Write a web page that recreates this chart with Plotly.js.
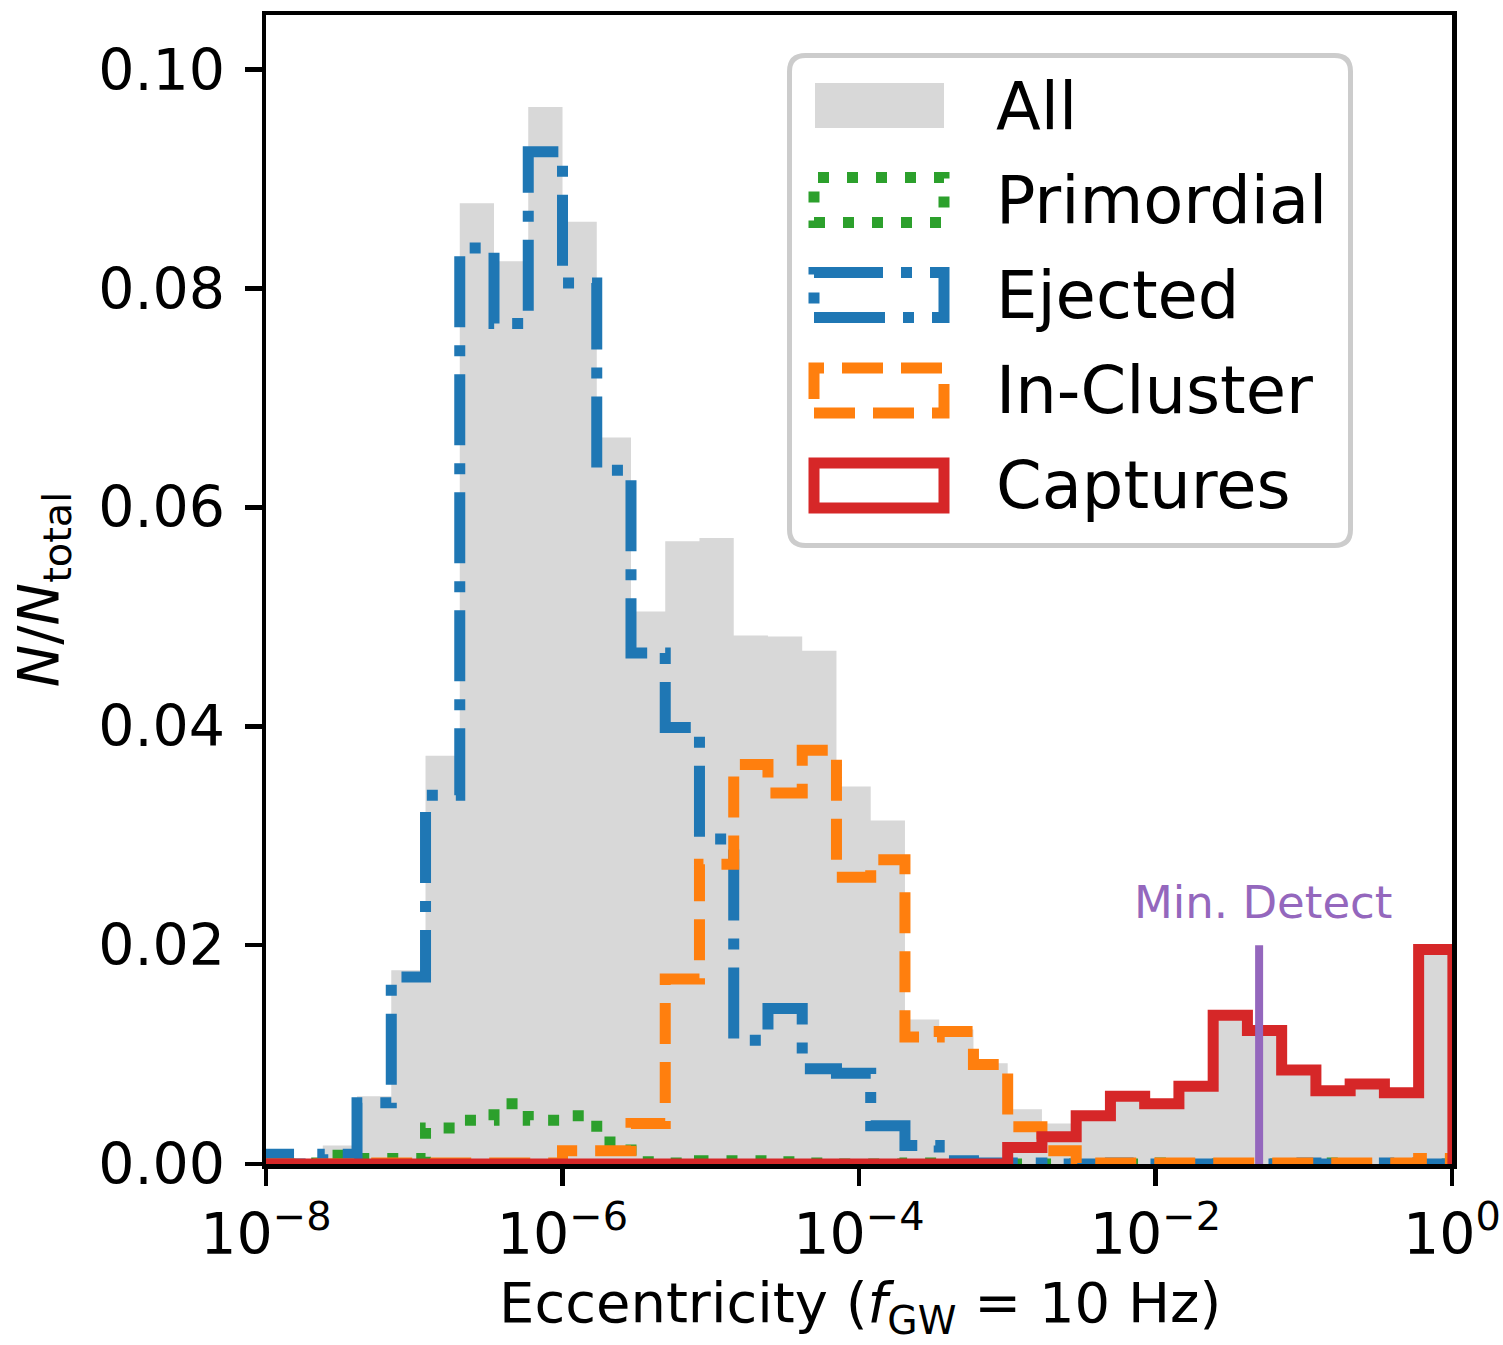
<!DOCTYPE html>
<html>
<head>
<meta charset="utf-8">
<script src="https://cdn.plot.ly/plotly-3.0.1.min.js"></script>
<style>
  html, body { margin: 0; padding: 0; background: #ffffff; }
  #chart { width: 1503px; height: 1345px; }
</style>
</head>
<body>
<div id="chart"></div>
<script>
// ---- Histogram bins (log10 of eccentricity): 35 equal-width bins in log space ----
const binStartLog = -8.079;
const binWidthLog = 0.231;
const nBins = 35;

// ---- Series values: N/N_total per bin ----
const allVals = [0.0010, 0.0002, 0.0017, 0.0062, 0.0177, 0.0373, 0.0878, 0.0825, 0.0966, 0.0861,
                 0.0664, 0.0505, 0.0569, 0.0572, 0.0483, 0.0482, 0.0469, 0.0345, 0.0314, 0.0132,
                 0.0123, 0.0092, 0.0050, 0.0037, 0.0045, 0.0063, 0.0056, 0.0072, 0.0137, 0.0123,
                 0.0087, 0.0068, 0.0074, 0.0066, 0.0201];
const primordialVals = [0.0000, 0.0001, 0.0008, 0.0005, 0.0005, 0.0033, 0.0040, 0.0055, 0.0040, 0.0044,
                        0.0020, 0.0002, 0.0001, 0.0003, 0.0003, 0.0002, 0.0001, 0.0000, 0.0000, 0.0001,
                        0.0000, 0.0000, 0.0000, 0.0000, 0.0000, 0.0000, 0.0001, 0.0000, 0.0000, 0.0000,
                        0.0000, 0.0001, 0.0000, 0.0000, 0.0000];
const ejectedVals = [0.0009, 0.0000, 0.0009, 0.0056, 0.0171, 0.0337, 0.0837, 0.0768, 0.0925, 0.0805,
                     0.0634, 0.0467, 0.0399, 0.0297, 0.0113, 0.0142, 0.0087, 0.0083, 0.0035, 0.0017,
                     0.0003, 0.0001, 0.0001, 0.0000, 0.0000, 0.0001, 0.0000, 0.0000, 0.0000, 0.0000,
                     0.0001, 0.0000, 0.0000, 0.0001, 0.0000];
const inClusterVals = [0.0000, 0.0000, 0.0000, 0.0001, 0.0001, 0.0001, 0.0001, 0.0001, 0.0001, 0.0012,
                       0.0012, 0.0037, 0.0169, 0.0274, 0.0365, 0.0339, 0.0378, 0.0262, 0.0278, 0.0116,
                       0.0121, 0.0091, 0.0034, 0.0012, 0.0001, 0.0001, 0.0001, 0.0001, 0.0001, 0.0001,
                       0.0001, 0.0001, 0.0001, 0.0001, 0.0005];
const capturesVals = [0, 0, 0, 0, 0, 0, 0, 0, 0, 0,
                      0, 0, 0, 0, 0, 0, 0, 0, 0, 0,
                      0, 0, 0.0015, 0.0025, 0.0044, 0.0062, 0.0055, 0.0071, 0.0136, 0.0122,
                      0.0086, 0.0067, 0.0073, 0.0065, 0.0196];

// Minimum detectable eccentricity marker
const minDetectX = 0.05;
const minDetectTop = 0.02;

// Tick labels
const xTickVals = [1e-8, 1e-6, 1e-4, 1e-2, 1];
const xTickText = ['10<sup>\u22128</sup>', '10<sup>\u22126</sup>', '10<sup>\u22124</sup>', '10<sup>\u22122</sup>', '10<sup>0</sup>'];
const yTickVals = [0, 0.02, 0.04, 0.06, 0.08, 0.10];
const yTickText = ['0.00', '0.02', '0.04', '0.06', '0.08', '0.10'];

const legendLabels = ['All', 'Primordial', 'Ejected', 'In-Cluster', 'Captures'];
const xTitle = 'Eccentricity (<i>f</i><sub>GW</sub> = 10 Hz)';
const yTitle = '<i>N</i>/<i>N</i><sub>total</sub>';

// ---- Styles ----
const GRAY = '#d8d8d8';
const GREEN = '#2ca02c', BLUE = '#1f77b4', ORANGE = '#ff7f0e', RED = '#d62728', PURPLE = '#9467bd';
const LW = 11;
const DOT = '11px,18px';
const DASH = '41px,18px';
const DASHDOT = '71px,18px,11px,18px';
const FONT = 'DejaVu Sans';

// bin edges (values)
const edges = [];
for (let i = 0; i <= nBins; i++) edges.push(Math.pow(10, binStartLog + i * binWidthLog));

function stepXY(vals) {
  const xs = [edges[0]], ys = [0];
  for (let i = 0; i < vals.length; i++) { xs.push(edges[i]); ys.push(vals[i]); }
  xs.push(edges[vals.length]); ys.push(vals[vals.length - 1]);
  xs.push(edges[vals.length]); ys.push(0);
  return {x: xs, y: ys};
}
function filledXY(vals) {
  const xs = [], ys = [];
  for (let i = 0; i < vals.length; i++) { xs.push(edges[i]); ys.push(vals[i]); }
  xs.push(edges[vals.length]); ys.push(vals[vals.length - 1]);
  return {x: xs, y: ys};
}

const gAll = filledXY(allVals);
const traces = [
  {type: 'scatter', mode: 'lines', x: gAll.x, y: gAll.y, fill: 'tozeroy', fillcolor: GRAY,
   line: {shape: 'hv', width: 0, color: GRAY}, name: 'All', showlegend: false, hoverinfo: 'skip'},
];
const stepSeries = [
  [primordialVals, GREEN, DOT, 'Primordial'],
  [ejectedVals, BLUE, DASHDOT, 'Ejected'],
  [inClusterVals, ORANGE, DASH, 'In-Cluster'],
  [capturesVals, RED, 'solid', 'Captures'],
];
stepSeries.forEach(([vals, col, dash, nm]) => {
  const s = stepXY(vals);
  traces.push({type: 'scatter', mode: 'lines', x: s.x, y: s.y, name: nm, showlegend: false,
               line: {shape: 'hv', width: LW, color: col, dash: dash}, hoverinfo: 'skip'});
});
traces.push({type: 'scatter', mode: 'lines', x: [minDetectX, minDetectX], y: [0, minDetectTop],
             line: {width: 8, color: PURPLE}, showlegend: false, hoverinfo: 'skip', name: 'Min. Detect'});

// ---- Layout geometry (pixels) ----
const L = 266, R = 1452, T = 15, B = 1164;
const W = R - L, H = B - T;
const fx = x => (x - L) / W;
const fy = y => (B - y) / H;

// legend frame (rounded rectangle in paper coords)
function roundRect(x0, y0, x1, y1, r) {
  const rx = r / W, ry = r / H;
  const X0 = fx(x0), X1 = fx(x1), Y0 = fy(y0), Y1 = fy(y1); // Y0 top (greater)
  return `M ${X0 + rx},${Y0} L ${X1 - rx},${Y0} Q ${X1},${Y0} ${X1},${Y0 - ry} ` +
         `L ${X1},${Y1 + ry} Q ${X1},${Y1} ${X1 - rx},${Y1} L ${X0 + rx},${Y1} ` +
         `Q ${X0},${Y1} ${X0},${Y1 + ry} L ${X0},${Y0 - ry} Q ${X0},${Y0} ${X0 + rx},${Y0} Z`;
}

const shapes = [
  {type: 'path', xref: 'paper', yref: 'paper', path: roundRect(789.5, 55.5, 1350.5, 545.5, 16),
   line: {color: '#cccccc', width: 5}, fillcolor: 'rgba(255,255,255,0.8)', layer: 'above'},
];
const rowY = [105.5, 200, 295, 390.5, 485.5];
const hx0 = 814, hx1 = 944, hh = 22.5;
shapes.push({type: 'rect', xref: 'paper', yref: 'paper', x0: fx(815), x1: fx(944),
             y0: fy(rowY[0] + hh), y1: fy(rowY[0] - hh), fillcolor: GRAY, line: {width: 0}, layer: 'above'});
const handleStyles = [[GREEN, DOT], [BLUE, DASHDOT], [ORANGE, DASH], [RED, 'solid']];
handleStyles.forEach(([col, dash], k) => {
  const yc = rowY[k + 1];
  shapes.push({type: 'rect', xref: 'paper', yref: 'paper', x0: fx(hx0), x1: fx(hx1),
               y0: fy(yc + hh), y1: fy(yc - hh), fillcolor: 'rgba(0,0,0,0)',
               line: {color: col, width: LW, dash: dash}, layer: 'above'});
});

const annotations = legendLabels.map((t, k) => ({
  xref: 'paper', yref: 'paper', x: fx(994), y: fy(rowY[k]), xanchor: 'left', yanchor: 'middle',
  text: t, showarrow: false, font: {family: FONT, size: 65.5, color: '#000000'}
}));
annotations.push({
  xref: 'x', yref: 'y', x: Math.log10(minDetectX), y: minDetectTop, xanchor: 'center', yanchor: 'bottom',
  xshift: 4, yshift: 14, text: 'Min. Detect', showarrow: false,
  font: {family: FONT, size: 45, color: PURPLE}
});
// x-axis title
annotations.push({
  xref: 'paper', yref: 'paper', x: fx(860), y: fy(1306), xanchor: 'center', yanchor: 'middle',
  text: xTitle, showarrow: false, borderpad: 0, font: {family: FONT, size: 56, color: '#000000'}
});

const layout = {
  width: 1503, height: 1345,
  margin: {l: L, r: 1503 - R, t: T, b: 1345 - B, pad: 0},
  paper_bgcolor: '#ffffff', plot_bgcolor: '#ffffff',
  font: {family: FONT, color: '#000000'},
  showlegend: false,
  xaxis: {
    type: 'log', range: [-8, 0], tickvals: xTickVals, ticktext: xTickText,
    ticks: 'outside', ticklen: 17, tickwidth: 4.5, tickcolor: '#000000',
    showline: true, linewidth: 4.5, linecolor: '#000000', mirror: true,
    showgrid: false, zeroline: false,
    tickfont: {family: FONT, size: 57, color: '#000000'}
  },
  yaxis: {
    range: [0, 0.105], tickvals: yTickVals, ticktext: yTickText,
    ticks: 'outside', ticklen: 17, tickwidth: 4.5, tickcolor: '#000000',
    showline: true, linewidth: 4.5, linecolor: '#000000', mirror: true,
    showgrid: false, zeroline: false, ticklabelstandoff: 8,
    tickfont: {family: FONT, size: 57, color: '#000000'},
    title: {text: yTitle, font: {family: FONT, size: 57, color: '#000000'}, standoff: 21}
  },
  shapes: shapes,
  annotations: annotations
};

Plotly.newPlot('chart', traces, layout, {staticPlot: true, displayModeBar: false});
</script>
</body>
</html>
